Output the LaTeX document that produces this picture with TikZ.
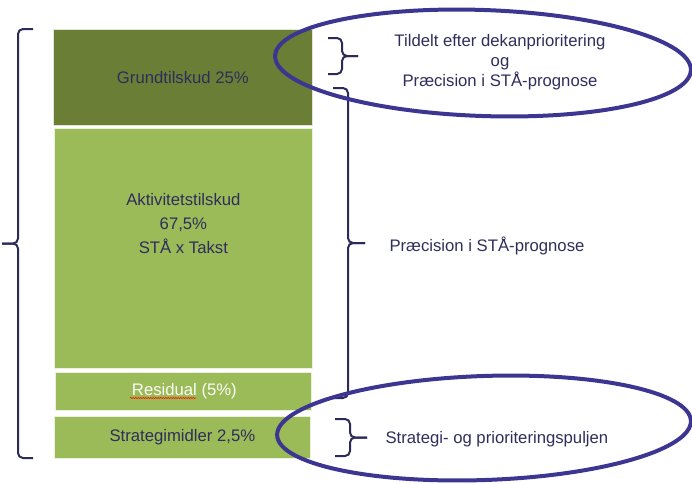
\documentclass[tikz,border=0pt]{standalone}
\usepackage{fontspec}
\setmainfont{Liberation Sans}
\usepackage{xcolor}
\usetikzlibrary{decorations.pathmorphing}

\begin{document}
\begin{tikzpicture}[x=1pt,y=-1pt,
    boks/.style={fill=#1,draw=white!80!#1,line width=0.8pt,inner sep=0pt,anchor=north west},
    tekst/.style={text=TextNavy,align=center,font=\fontsize{16.7}{24}\selectfont},
    klamme/.style={draw=BraceNavy,line width=2pt,rounded corners=5pt},
    ring/.style={draw=RingBlue,line width=4pt}]
    \definecolor{DarkOlive}{HTML}{6A7F35}
    \definecolor{LightGreen}{HTML}{9BBB59}
    \definecolor{TextNavy}{HTML}{2F2D5B}
    \definecolor{BraceNavy}{HTML}{2B2A58}
    \definecolor{RingBlue}{HTML}{3C3591}
    \useasboundingbox (0,0) rectangle (692,483);
    \node[boks=DarkOlive,minimum width=259pt,minimum height=96pt] (grund) at (53,29) {};
    \node[boks=LightGreen,minimum width=258pt,minimum height=240pt] (aktiv) at (54,128) {};
    \node[boks=LightGreen,minimum width=256pt,minimum height=38pt] (resid) at (55,372) {};
    \node[boks=LightGreen,minimum width=256pt,minimum height=42pt] (strat) at (54,416) {};
    \node[tekst] (grundTxt) at (grund.center) {Grundtilskud 25\%};
    \node[tekst] (aktivTxt) at ([yshift=25pt]aktiv.center) {Aktivitetstilskud\\67,5\%\\STÅ x Takst};
    \node[tekst,text=white!95!LightGreen] (residTxt) at ([xshift=1pt]resid.center) {Residual (5\%)};
    \node[tekst] (stratTxt) at (strat.center) {Strategimidler 2,5\%};
    \draw[red!75!orange,line width=0.6pt,decorate,
        decoration={snake,amplitude=0.7pt,segment length=2.5pt}]
        (130,398) -- (196,398);
    \foreach \top/\bot/\stem/\tip/\end in {29/458/18/2/33,38/74/342/358/328,%
        88/398/348/365/333,419/456/350/367/335}{%
        \coordinate (M) at (\stem,{(\top+\bot)/2});
        \draw[klamme] (\end,\top) -| (M) -- (\tip,{(\top+\bot)/2});
        \draw[klamme] (\end,\bot) -| (M) -- (\tip,{(\top+\bot)/2});
    }
    \node[tekst,font=\fontsize{16.7}{20}\selectfont] (tildelt) at (500,62)
        {Tildelt efter dekanprioritering\\og\\Præcision i STÅ-prognose};
    \node[tekst,anchor=west] (praecision) at (386,246) {Præcision i STÅ-prognose};
    \node[tekst,anchor=west] (puljen) at (382,439) {Strategi- og prioriteringspuljen};
    \draw[ring,rotate around={-2:(483,63)}] (483,63) ellipse [x radius=208, y radius=53];
    \draw[ring,rotate around={2:(484,428)}] (484,428) ellipse [x radius=207, y radius=52];
\end{tikzpicture}
\end{document}
